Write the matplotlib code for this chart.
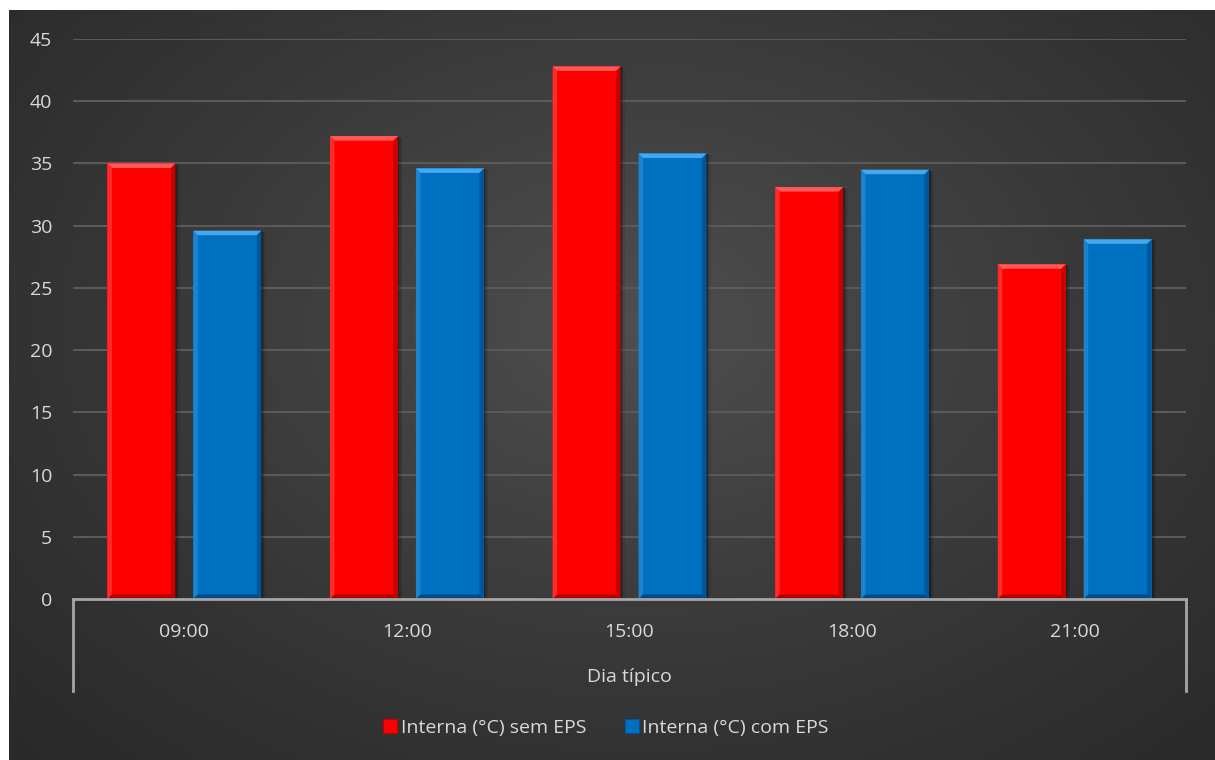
import matplotlib
import numpy as np

matplotlib.use("Agg")

from matplotlib import pyplot as plt  # noqa: E402
from matplotlib.lines import Line2D  # noqa: E402
from matplotlib.patches import Patch, Polygon, Rectangle  # noqa: E402

categories = ["09:00", "12:00", "15:00", "18:00", "21:00"]
sem_eps = [35.0, 37.2, 42.8, 33.1, 26.9]
com_eps = [29.6, 34.6, 35.8, 34.5, 28.9]
series_labels = ["Interna (°C) sem EPS", "Interna (°C) com EPS"]
group_label = "Dia típico"
y_ticks = list(range(0, 50, 5))

W, H = 1215, 760
TEXT = "#d9d9d9"
AXIS = "#a6a6a6"
GRID = "#5a5a5a"
FS = 14

# body, top bevel, left edge, right edge, bottom edge
RED = ("#ff0000", "#ff5a5a", "#ff2a2a", "#c80000", "#b00000")
BLUE = ("#0070c0", "#45a8ee", "#1a84d0", "#00569a", "#004a88")

plt.rcParams["font.family"] = ["Open Sans", "DejaVu Sans"]

fig = plt.figure(figsize=(W / 100, H / 100), dpi=100, facecolor="white")

# dark radial background panel
bg = fig.add_axes([9 / W, 0, (W - 9) / W, (H - 10) / H])
bg.set_axis_off()
gx, gy = np.meshgrid(np.linspace(0, 1, 400), np.linspace(0, 1, 260))
dist = np.sqrt(((gx - 0.52) / 0.75) ** 2 + ((gy - 0.42) / 0.85) ** 2)
shade = np.clip(1 - dist, 0, 1) ** 1.2
lo, hi = 0.16, 0.31
grey = lo + (hi - lo) * shade
bg.imshow(np.dstack([grey, grey, grey]), aspect="auto", extent=(0, 1, 0, 1),
          origin="upper", interpolation="bilinear")
bg.set_xlim(0, 1)
bg.set_ylim(0, 1)

ax = fig.add_axes([73 / W, 1 - 599 / H, (1186 - 73) / W, (599 - 39) / H])
ax.patch.set_alpha(0)
ax.set_xlim(-0.5, len(categories) - 0.5)
ax.set_ylim(0, 45)
for s in ax.spines.values():
    s.set_visible(False)
ax.set_yticks(y_ticks)
ax.set_xticks([])
ax.tick_params(axis="y", length=0, colors=TEXT, labelsize=FS, pad=15)
for t in y_ticks[1:]:
    ax.axhline(t, color=GRID, lw=1.5, zorder=0)

width = 0.305
offset = 0.193
px_x = (1186 - 73) / len(categories)
px_y = (599 - 39) / 45.0
bx = 4.5 / px_x
by = 4.5 / px_y


def bevel_bar(xc, value, pal):
    x0, x1 = xc - width / 2, xc + width / 2
    # soft drop shadow
    for k, a in ((1, 0.22), (2, 0.14), (3, 0.08)):
        ax.add_patch(Rectangle((x0 + k * 1.5 / px_x, 0), width, value - k * 0.5 / px_y,
                               facecolor="black", alpha=a, lw=0, zorder=1))
    ax.add_patch(Rectangle((x0, 0), width, value, facecolor=pal[0], lw=0, zorder=2))
    top = [(x0, value), (x1, value), (x1 - bx, value - by), (x0 + bx, value - by)]
    left = [(x0, value), (x0 + bx, value - by), (x0 + bx, by), (x0, 0)]
    right = [(x1, value), (x1 - bx, value - by), (x1 - bx, by), (x1, 0)]
    bottom = [(x0, 0), (x1, 0), (x1 - bx, by), (x0 + bx, by)]
    ax.add_patch(Polygon(left, closed=True, facecolor=pal[2], lw=0, zorder=3))
    ax.add_patch(Polygon(right, closed=True, facecolor=pal[3], lw=0, zorder=3))
    ax.add_patch(Polygon(bottom, closed=True, facecolor=pal[4], lw=0, zorder=3))
    ax.add_patch(Polygon(top, closed=True, facecolor=pal[1], lw=0, zorder=3))


for i, (a, b) in enumerate(zip(sem_eps, com_eps)):
    bevel_bar(i - offset, a, RED)
    bevel_bar(i + offset, b, BLUE)

# two-level category axis drawn below the plot
x_left, x_right = 73 / W, 1186 / W
y_axis = 1 - 599 / H
y_low = 1 - 691 / H
fig.add_artist(Line2D([x_left, x_right], [y_axis, y_axis], color=AXIS, lw=2.0))
fig.add_artist(Line2D([x_left, x_left], [y_axis, y_low], color=AXIS, lw=2.0))
fig.add_artist(Line2D([x_right, x_right], [y_axis, y_low], color=AXIS, lw=2.0))
for i, c in enumerate(categories):
    ax.text(i, -2.65, c, ha="center", va="center", color=TEXT, fontsize=FS)
ax.text((len(categories) - 1) / 2, -6.3, group_label, ha="center", va="center",
        color=TEXT, fontsize=FS)

handles = [Patch(facecolor=RED[0], edgecolor=RED[3], lw=0.8),
           Patch(facecolor=BLUE[0], edgecolor=BLUE[3], lw=0.8)]
fig.legend(handles, series_labels, loc="center", bbox_to_anchor=(606 / W, 1 - 728 / H),
           ncol=2, frameon=False, fontsize=FS, labelcolor=TEXT,
           handlelength=0.7, handleheight=0.7, handletextpad=0.2,
           columnspacing=2.0)

fig.savefig("out.png", dpi=100, facecolor=fig.get_facecolor())
